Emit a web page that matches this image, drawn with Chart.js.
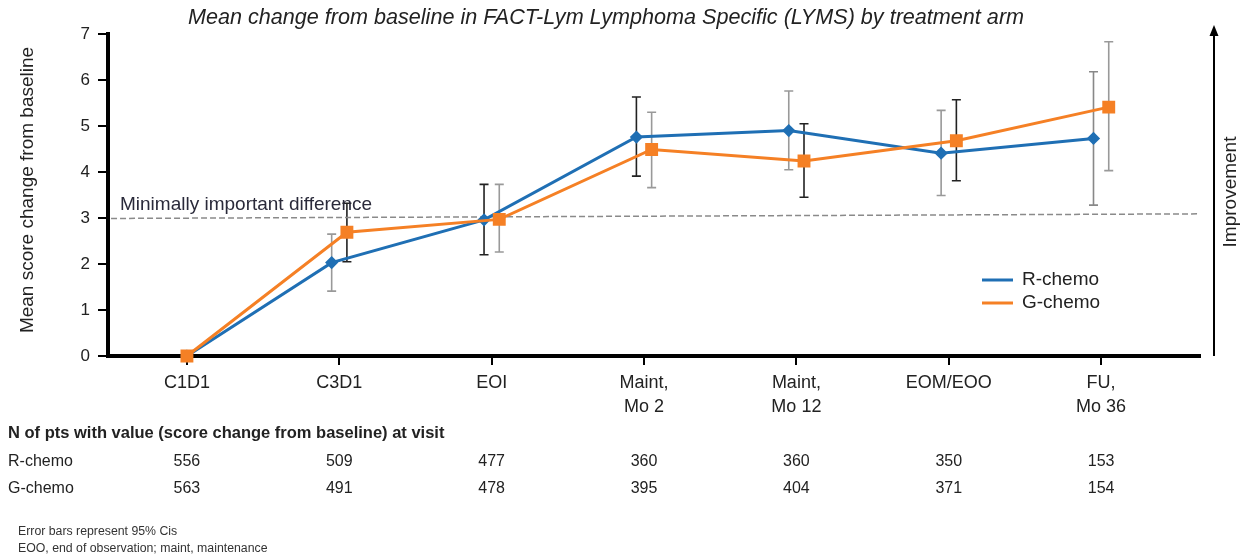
<!DOCTYPE html>
<html>
<head>
<meta charset="utf-8">
<script src="https://cdn.jsdelivr.net/npm/chart.js@4.4.1/dist/chart.umd.min.js"></script>
<style>
  html, body { margin: 0; padding: 0; background: #fff; }
  #wrap { width: 1250px; height: 558px; position: relative; }
</style>
</head>
<body>
<div id="wrap"><canvas id="c" width="1250" height="558"></canvas></div>
<script>
// ---- data ----
const categories = [['C1D1'], ['C3D1'], ['EOI'], ['Maint,', 'Mo 2'], ['Maint,', 'Mo 12'], ['EOM/EOO'], ['FU,', 'Mo 36']];
const rMean = [0, 2.03, 2.96, 4.76, 4.90, 4.41, 4.73];
const rLow  = [0, 1.41, 2.20, 3.91, 4.05, 3.49, 3.28];
const rHigh = [0, 2.65, 3.73, 5.63, 5.76, 5.34, 6.18];
const gMean = [0, 2.69, 2.97, 4.49, 4.24, 4.68, 5.41];
const gLow  = [0, 2.05, 2.26, 3.66, 3.45, 3.81, 4.03];
const gHigh = [0, 3.32, 3.73, 5.30, 5.05, 5.57, 6.83];
const rN = [556, 509, 477, 360, 360, 350, 153];
const gN = [563, 491, 478, 395, 404, 371, 154];
const midLine = [2.99, 3.09];
const yTicks = [0, 1, 2, 3, 4, 5, 6, 7];
const seriesNames = ['R-chemo', 'G-chemo'];

// ---- styles ----
const BLUE = '#1f6fb4';
const ORANGE = '#f58025';
const FONT = "'Liberation Sans', Arial, sans-serif";
const rBarColor = ['#999', '#999', '#222', '#222', '#999', '#999', '#888'];
const gBarColor = ['#222', '#222', '#999', '#999', '#222', '#222', '#999'];
const DODGE = 0.05;
const X_MIN = -0.518, X_MAX = 6.649;

function pts(arr, sign) {
  return arr.map((v, i) => ({ x: i + (i === 0 ? 0 : sign * DODGE), y: v }));
}

const deco = {
  id: 'deco',
  beforeDatasetsDraw(chart) {
    const ctx = chart.ctx, xs = chart.scales.x, ys = chart.scales.y;
    const bars = [[rLow, rHigh, -1, rBarColor], [gLow, gHigh, 1, gBarColor]];
    ctx.save();
    ctx.lineWidth = 1.6;
    bars.forEach(([lo, hi, sign, cols]) => {
      lo.forEach((l, i) => {
        if (l === hi[i]) return;
        const x = xs.getPixelForValue(i + (i === 0 ? 0 : sign * DODGE));
        const y1 = ys.getPixelForValue(l), y2 = ys.getPixelForValue(hi[i]);
        ctx.strokeStyle = cols[i];
        ctx.beginPath();
        ctx.moveTo(x, y1); ctx.lineTo(x, y2);
        ctx.moveTo(x - 4.5, y1); ctx.lineTo(x + 4.5, y1);
        ctx.moveTo(x - 4.5, y2); ctx.lineTo(x + 4.5, y2);
        ctx.stroke();
      });
    });
    ctx.restore();
  },
  afterDraw(chart) {
    const ctx = chart.ctx, xs = chart.scales.x;
    ctx.save();
    ctx.fillStyle = '#222';
    // title
    ctx.font = 'italic 21.6px ' + FONT;
    ctx.textAlign = 'center'; ctx.textBaseline = 'middle';
    ctx.fillText('Mean change from baseline in FACT-Lym Lymphoma Specific (LYMS) by treatment arm', 606, 18);
    // y label
    ctx.save();
    ctx.translate(28, 190); ctx.rotate(-Math.PI / 2);
    ctx.font = '19px ' + FONT;
    ctx.fillText('Mean score change from baseline', 0, 0);
    ctx.restore();
    // MID label
    ctx.font = '19px ' + FONT;
    ctx.textAlign = 'left'; ctx.textBaseline = 'alphabetic';
    ctx.fillStyle = '#2a2a3a';
    ctx.fillText('Minimally important difference', 120, 210);
    // legend
    ctx.fillStyle = '#222';
    ctx.textBaseline = 'middle';
    [[BLUE, 280], [ORANGE, 303]].forEach(([c, y], k) => {
      ctx.strokeStyle = c; ctx.lineWidth = 3;
      ctx.beginPath(); ctx.moveTo(982, y); ctx.lineTo(1013, y); ctx.stroke();
      ctx.fillText(seriesNames[k], 1022, y);
    });
    // improvement arrow
    ctx.strokeStyle = '#000'; ctx.lineWidth = 2;
    ctx.beginPath(); ctx.moveTo(1214, 356); ctx.lineTo(1214, 34); ctx.stroke();
    ctx.fillStyle = '#000';
    ctx.beginPath(); ctx.moveTo(1214, 25); ctx.lineTo(1209.5, 36); ctx.lineTo(1218.5, 36); ctx.closePath(); ctx.fill();
    ctx.save();
    ctx.translate(1231, 192); ctx.rotate(-Math.PI / 2);
    ctx.textAlign = 'center'; ctx.fillStyle = '#222';
    ctx.fillText('Improvement', 0, 0);
    ctx.restore();
    // table
    ctx.fillStyle = '#222';
    ctx.textAlign = 'left';
    ctx.font = 'bold 16.5px ' + FONT;
    ctx.fillText('N of pts with value (score change from baseline) at visit', 8, 433);
    ctx.font = '16px ' + FONT;
    ctx.fillText(seriesNames[0], 8, 462);
    ctx.fillText(seriesNames[1], 8, 489);
    ctx.textAlign = 'center';
    rN.forEach((n, i) => ctx.fillText(String(n), xs.getPixelForValue(i), 462));
    gN.forEach((n, i) => ctx.fillText(String(n), xs.getPixelForValue(i), 489));
    // footnotes
    ctx.textAlign = 'left';
    ctx.font = '12.3px ' + FONT;
    ctx.fillStyle = '#333';
    ctx.fillText('Error bars represent 95% Cis', 18, 532);
    ctx.fillText('EOO, end of observation; maint, maintenance', 18, 549);
    ctx.restore();
  }
};

new Chart(document.getElementById('c'), {
  type: 'line',
  data: {
    datasets: [
      {
        label: seriesNames[1], data: pts(gMean, 1), order: 1,
        borderColor: ORANGE, backgroundColor: ORANGE, borderWidth: 3,
        pointStyle: 'rect', pointRadius: 7, pointHoverRadius: 7, clip: false, tension: 0
      },
      {
        label: seriesNames[0], data: pts(rMean, -1), order: 2,
        borderColor: BLUE, backgroundColor: BLUE, borderWidth: 3,
        pointStyle: 'rectRot', pointRadius: 4.5, pointHoverRadius: 4.5, clip: false, tension: 0
      },
      {
        label: 'MID', data: [{ x: X_MIN + 0.02, y: midLine[0] }, { x: X_MAX - 0.01, y: midLine[1] }], order: 3,
        borderColor: '#8a8a8a', borderWidth: 1.5, borderDash: [6, 3], pointRadius: 0, clip: false
      }
    ]
  },
  options: {
    responsive: false,
    animation: false,
    devicePixelRatio: 1,
    layout: { padding: { top: 34, right: 50, left: 0, bottom: 0 } },
    plugins: { legend: { display: false }, title: { display: false }, tooltip: { enabled: false } },
    scales: {
      x: {
        type: 'linear', min: X_MIN, max: X_MAX,
        afterFit(s) { s.height = 202; },
        afterBuildTicks(s) { s.ticks = categories.map((c, i) => ({ value: i })); },
        ticks: {
          autoSkip: false, maxRotation: 0, padding: 7,
          color: '#222', font: { family: FONT, size: 18, lineHeight: 1.28 },
          callback: (v) => categories[v] || ''
        },
        grid: { drawOnChartArea: false, drawTicks: true, tickLength: 9, color: '#000', lineWidth: 2 },
        border: { display: true, color: '#000', width: 4 }
      },
      y: {
        min: 0, max: 7,
        afterFit(s) { s.width = 108; },
        afterBuildTicks(s) { s.ticks = yTicks.map(v => ({ value: v })); },
        ticks: { padding: 8, color: '#222', font: { family: FONT, size: 17 } },
        grid: { drawOnChartArea: false, drawTicks: true, tickLength: 10, color: '#000', lineWidth: 2 },
        border: { display: true, color: '#000', width: 4 }
      }
    }
  },
  plugins: [deco]
});
</script>
</body>
</html>
